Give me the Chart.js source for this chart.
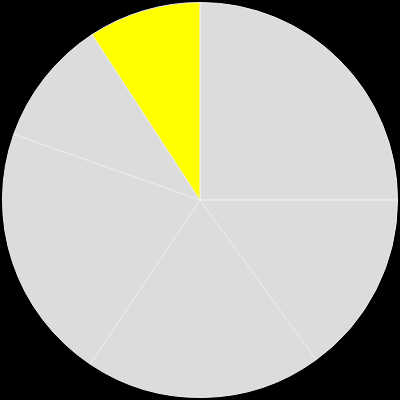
<!DOCTYPE html>
<html lang="en">
<head>
    <meta charset="UTF-8">
    <title>Pie</title>
    <script src="https://cdn.jsdelivr.net/npm/chart.js"></script>
    <style>
        html, body {
            margin: 0;
            padding: 0;
            background-color: #000;
        }
        .wrap {
            width: 400px;
            height: 400px;
        }
    </style>
</head>
<body>
    <div class="wrap"><canvas id="pieChart"></canvas></div>

    <script>
        // slice values, clockwise from 12 o'clock
        const labels = ['A', 'B', 'C', 'D', 'E', 'F'];
        const values = [25, 15, 19.4, 21, 10.4, 9.2];
        const colours = ['#dcdcdc', '#dcdcdc', '#dcdcdc', '#dcdcdc', '#dcdcdc', '#ffff00'];

        const ctx = document.getElementById('pieChart').getContext('2d');
        new Chart(ctx, {
            type: 'pie',
            data: {
                labels: labels,
                datasets: [{
                    data: values,
                    backgroundColor: colours,
                    borderColor: '#efefef',
                    borderWidth: 1
                }]
            },
            options: {
                responsive: true,
                maintainAspectRatio: false,
                animation: false,
                layout: { padding: 2 },
                plugins: {
                    legend: { display: false },
                    tooltip: { enabled: false }
                }
            }
        });
    </script>
</body>
</html>
